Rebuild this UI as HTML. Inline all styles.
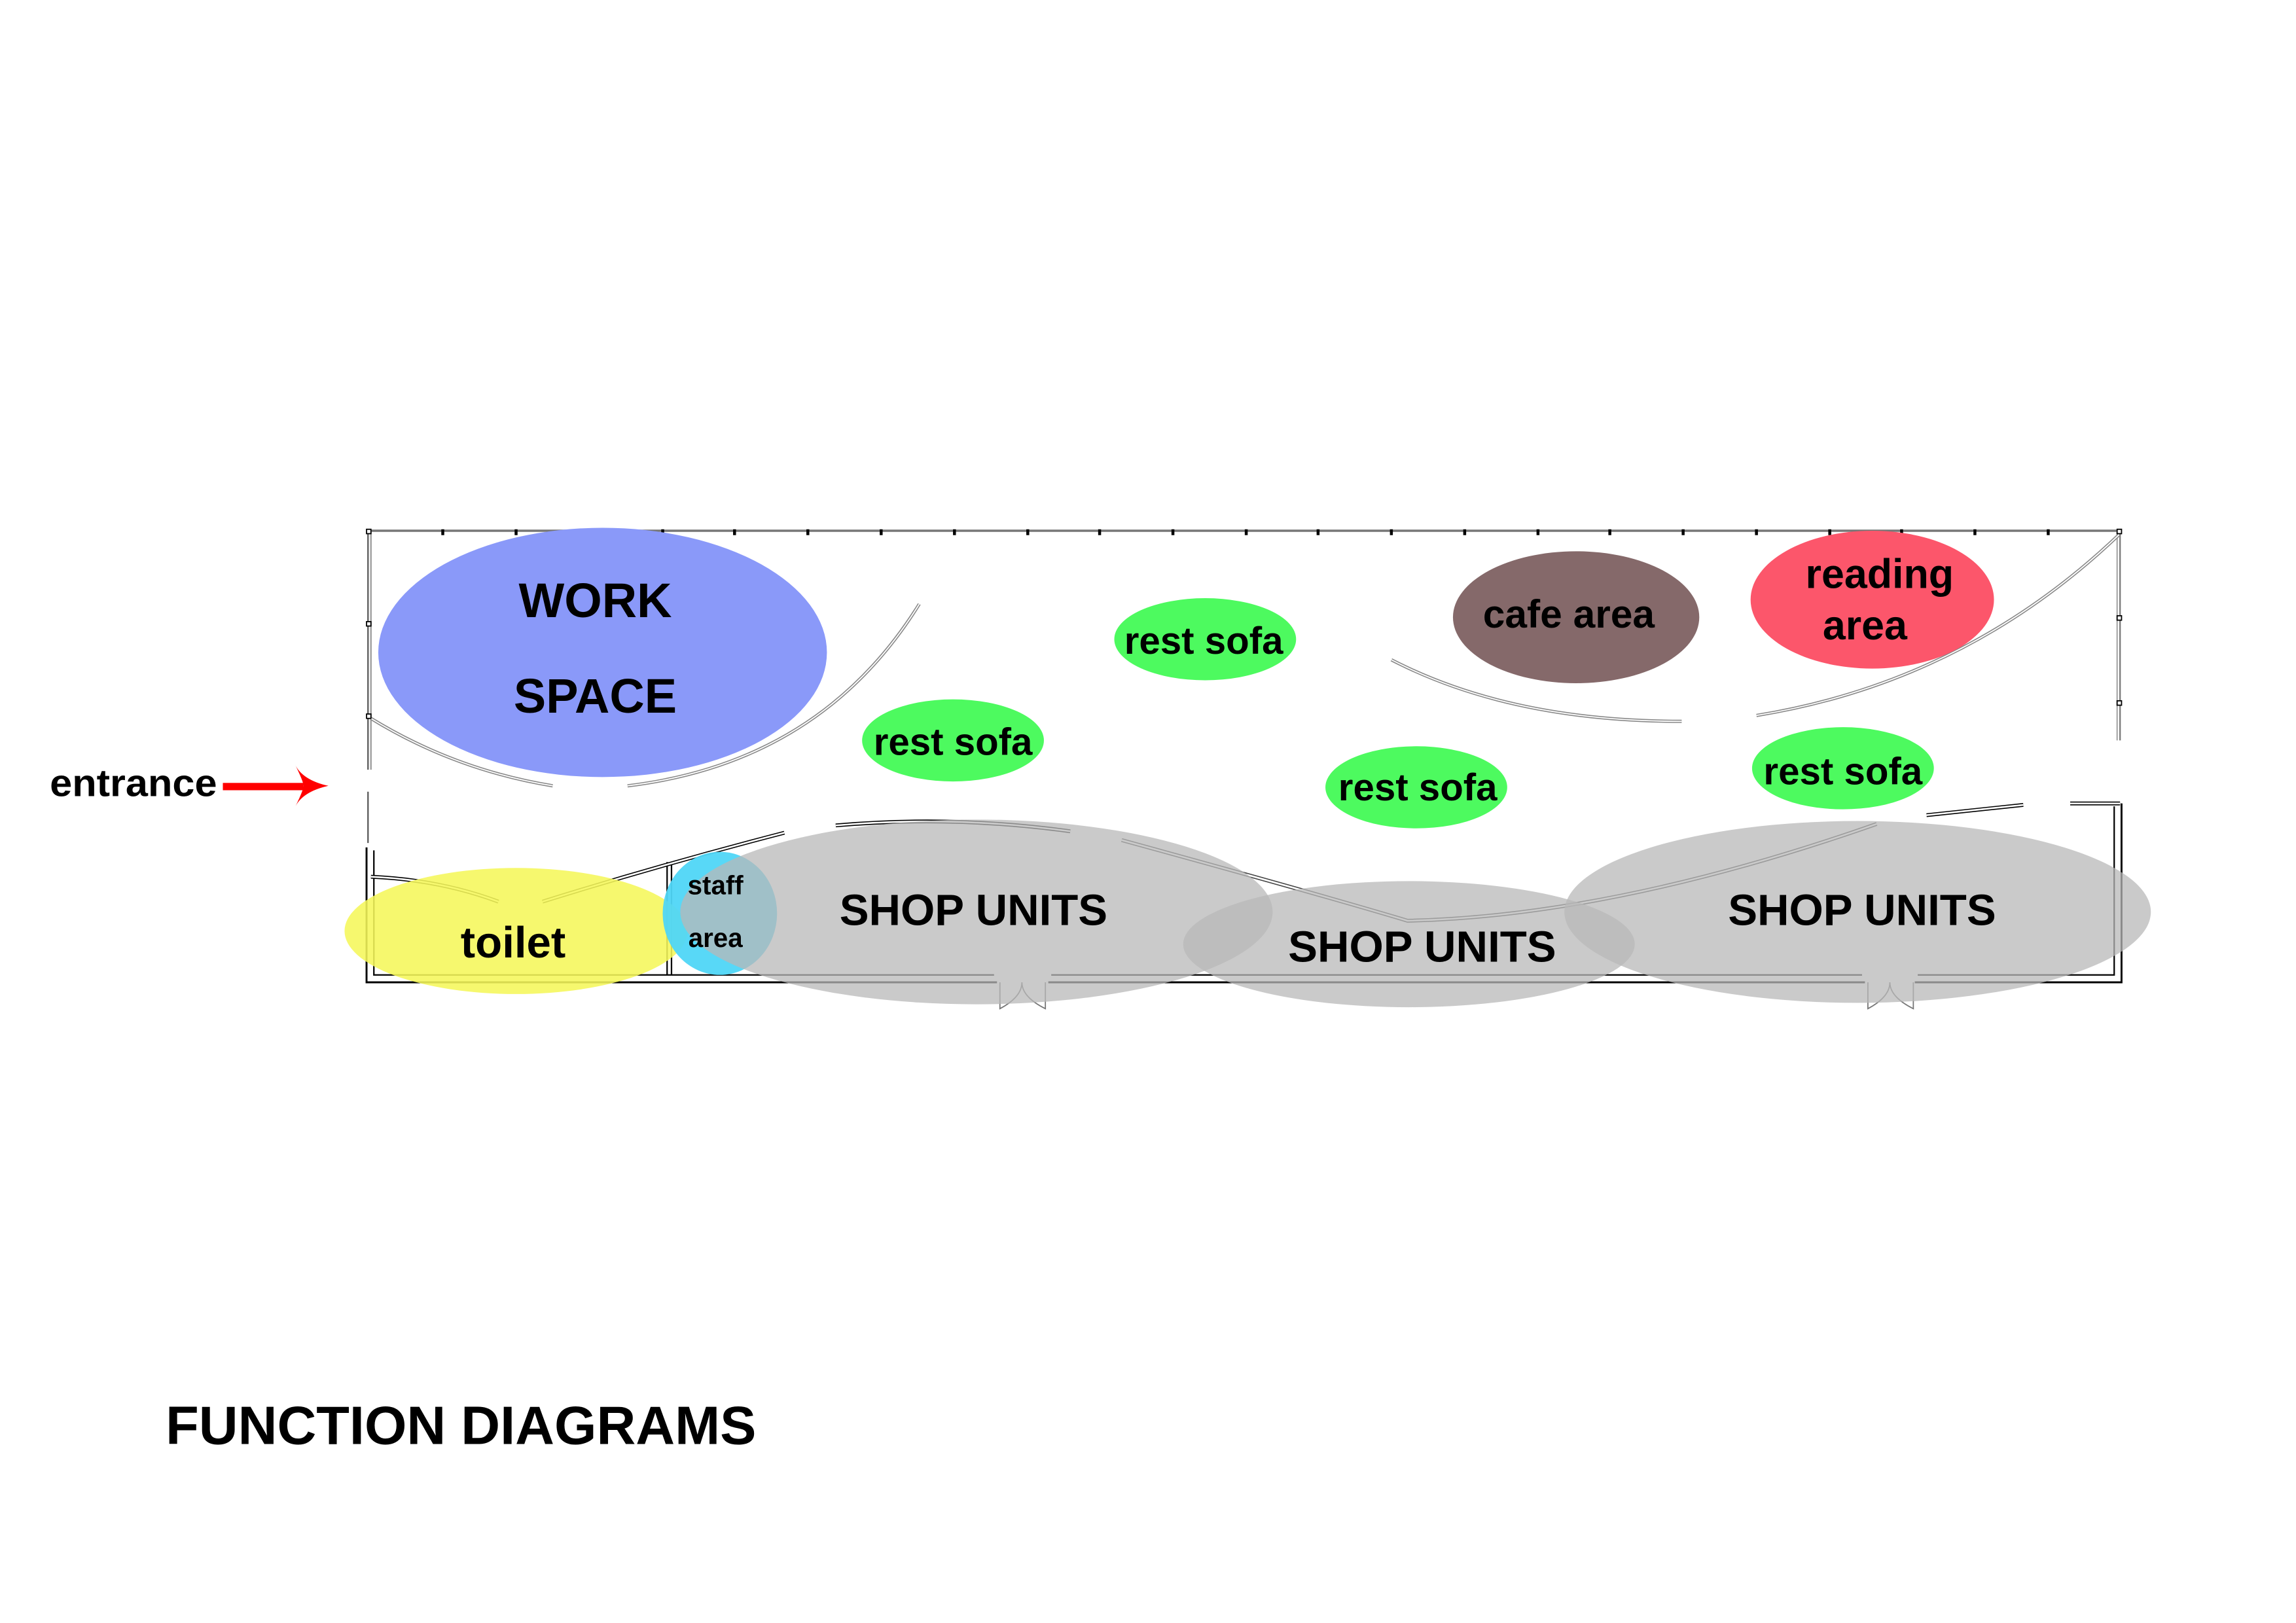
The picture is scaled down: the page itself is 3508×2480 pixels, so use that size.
<!DOCTYPE html>
<html><head><meta charset="utf-8"><style>
html,body{margin:0;padding:0;background:#fff;}
svg{display:block;}
text{font-family:"Liberation Sans",sans-serif;font-weight:bold;fill:#000;}
</style></head><body>
<svg width="3508" height="2480" viewBox="0 0 1566 1107" preserveAspectRatio="none" xmlns="http://www.w3.org/2000/svg">
<rect width="1566" height="1107" fill="#fff"/>
<!-- walls -->
<g fill="none" stroke="#555" stroke-width="1">
<line x1="251" y1="362" x2="1447" y2="362" stroke="#777" stroke-width="1.6"/>
<line x1="251" y1="362" x2="251" y2="525"/>
<line x1="253" y1="362" x2="253" y2="525" stroke="#999"/>
<line x1="251" y1="540" x2="251" y2="575"/>
<path d="M250 578 V670 H680 M715 670 H1272 M1306 670 H1447 V548" stroke="#000" stroke-width="1.3"/>
<path d="M255 580 V665 H678 M717 665 H1270 M1308 665 H1442 V550" stroke="#000"/>
<line x1="1446" y1="362" x2="1446" y2="505" stroke="#777"/>
<line x1="1444" y1="362" x2="1444" y2="505" stroke="#aaa"/>
<line x1="455" y1="588" x2="455" y2="665" stroke="#000"/>
<line x1="458" y1="588" x2="458" y2="665" stroke="#000"/>
<path d="M682 670 V688 Q697 680 697 670 Q697 680 713 688 V670" stroke="#777" stroke-width="0.8"/>
<path d="M1274 670 V688 Q1289 680 1289 670 Q1289 680 1305 688 V670" stroke="#777" stroke-width="0.8"/>
<path d="M627 412 Q560 520 428 536" stroke="#888" stroke-width="2.2"/>
<path d="M627 412 Q560 520 428 536" stroke="#fff" stroke-width="0.8"/>
<path d="M253 490 Q310 525 377 536" stroke="#888" stroke-width="2.2"/>
<path d="M253 490 Q310 525 377 536" stroke="#fff" stroke-width="0.8"/>
<path d="M949 450 Q1030 492 1147 492" stroke="#888" stroke-width="2.2"/>
<path d="M949 450 Q1030 492 1147 492" stroke="#fff" stroke-width="0.8"/>
<path d="M1445 365 Q1340 465 1198 488" stroke="#888" stroke-width="2.2"/>
<path d="M1445 365 Q1340 465 1198 488" stroke="#fff" stroke-width="0.8"/>
<path d="M253 598 Q300 600 340 615 M370 615 Q450 590 535 568" stroke="#000" stroke-width="2.6"/>
<path d="M253 598 Q300 600 340 615 M370 615 Q450 590 535 568" stroke="#fff" stroke-width="1.2"/>
<path d="M570 563 Q650 556 730 567" stroke="#000" stroke-width="2.6"/>
<path d="M570 563 Q650 556 730 567" stroke="#fff" stroke-width="1.2"/>
<path d="M765 573 Q900 610 960 628 Q1100 625 1280 562" stroke="#444" stroke-width="2.6"/>
<path d="M765 573 Q900 610 960 628 Q1100 625 1280 562" stroke="#fff" stroke-width="1.2"/>
<path d="M1314 556 L1380 549 M1412 548 L1446 548" stroke="#000" stroke-width="2.6"/>
<path d="M1314 556 L1380 549 M1412 548 L1446 548" stroke="#fff" stroke-width="1.2"/>
</g>
<g fill="#000">
<rect x="301" y="361" width="2" height="4"/><rect x="351" y="361" width="2" height="4"/><rect x="401" y="361" width="2" height="4"/><rect x="451" y="361" width="2" height="4"/><rect x="500" y="361" width="2" height="4"/><rect x="550" y="361" width="2" height="4"/><rect x="600" y="361" width="2" height="4"/><rect x="650" y="361" width="2" height="4"/><rect x="700" y="361" width="2" height="4"/><rect x="749" y="361" width="2" height="4"/><rect x="799" y="361" width="2" height="4"/><rect x="849" y="361" width="2" height="4"/><rect x="898" y="361" width="2" height="4"/><rect x="948" y="361" width="2" height="4"/><rect x="998" y="361" width="2" height="4"/><rect x="1048" y="361" width="2" height="4"/><rect x="1097" y="361" width="2" height="4"/><rect x="1147" y="361" width="2" height="4"/><rect x="1197" y="361" width="2" height="4"/><rect x="1247" y="361" width="2" height="4"/><rect x="1296" y="361" width="2" height="4"/><rect x="1346" y="361" width="2" height="4"/><rect x="1396" y="361" width="2" height="4"/>
</g>
<g fill="#fff" stroke="#000" stroke-width="0.8">
<rect x="250" y="361" width="3" height="3"/><rect x="1444" y="361" width="3" height="3"/><rect x="250" y="424" width="3" height="3"/><rect x="250" y="487" width="3" height="3"/><rect x="1444" y="420" width="3" height="3"/><rect x="1444" y="478" width="3" height="3"/>
</g>
<!-- zones -->
<ellipse cx="411" cy="445" rx="153" ry="85" fill="#8a99f9"/>
<ellipse cx="822" cy="436" rx="62" ry="28" fill="#4dfa5f"/>
<ellipse cx="650" cy="505" rx="62" ry="28" fill="#4dfa5f"/>
<ellipse cx="966" cy="537" rx="62" ry="28" fill="#4dfa5f"/>
<ellipse cx="1257" cy="524" rx="62" ry="28" fill="#4dfa5f"/>
<ellipse cx="1075" cy="421" rx="84" ry="45" fill="#85696a"/>
<ellipse cx="1277" cy="409" rx="83" ry="47" fill="#fc566b"/>
<ellipse cx="352" cy="635" rx="117" ry="43" fill="#f5f75a" opacity="0.88"/>
<ellipse cx="491" cy="623" rx="39" ry="42" fill="#4fd6f7" opacity="0.95"/>
<ellipse cx="666" cy="622" rx="202" ry="63" fill="#b8b8b8" opacity="0.75"/>
<ellipse cx="961" cy="644" rx="154" ry="43" fill="#b8b8b8" opacity="0.75"/>
<ellipse cx="1267" cy="622" rx="200" ry="62" fill="#b8b8b8" opacity="0.75"/>
<!-- labels -->
<g text-anchor="middle">
<text x="406" y="421" font-size="33">WORK</text>
<text x="406" y="486" font-size="33">SPACE</text>
<text x="821" y="446" font-size="26">rest sofa</text>
<text x="650" y="515" font-size="26">rest sofa</text>
<text x="967" y="546" font-size="26">rest sofa</text>
<text x="1257" y="535" font-size="26">rest sofa</text>
<text x="1070" y="428" font-size="27">cafe area</text>
<text x="1282" y="401" font-size="28">reading</text>
<text x="1272" y="436" font-size="28">area</text>
<text x="350" y="653" font-size="30">toilet</text>
<text x="488" y="610" font-size="18">staff</text>
<text x="488" y="646" font-size="18">area</text>
<text x="664" y="631" font-size="30">SHOP UNITS</text>
<text x="970" y="656" font-size="30">SHOP UNITS</text>
<text x="1270" y="631" font-size="30">SHOP UNITS</text>
</g>
<text x="34" y="543" font-size="26" textLength="114" lengthAdjust="spacingAndGlyphs">entrance</text>
<rect x="152" y="534" width="55" height="5" fill="#f00"/>
<path d="M201 521 Q206 532 224 536 Q206 540 201 551 Q207 539 207 536 Q207 533 201 521 Z" fill="#f00"/>
<text x="113" y="985" font-size="37">FUNCTION DIAGRAMS</text>
</svg>
</body></html>
